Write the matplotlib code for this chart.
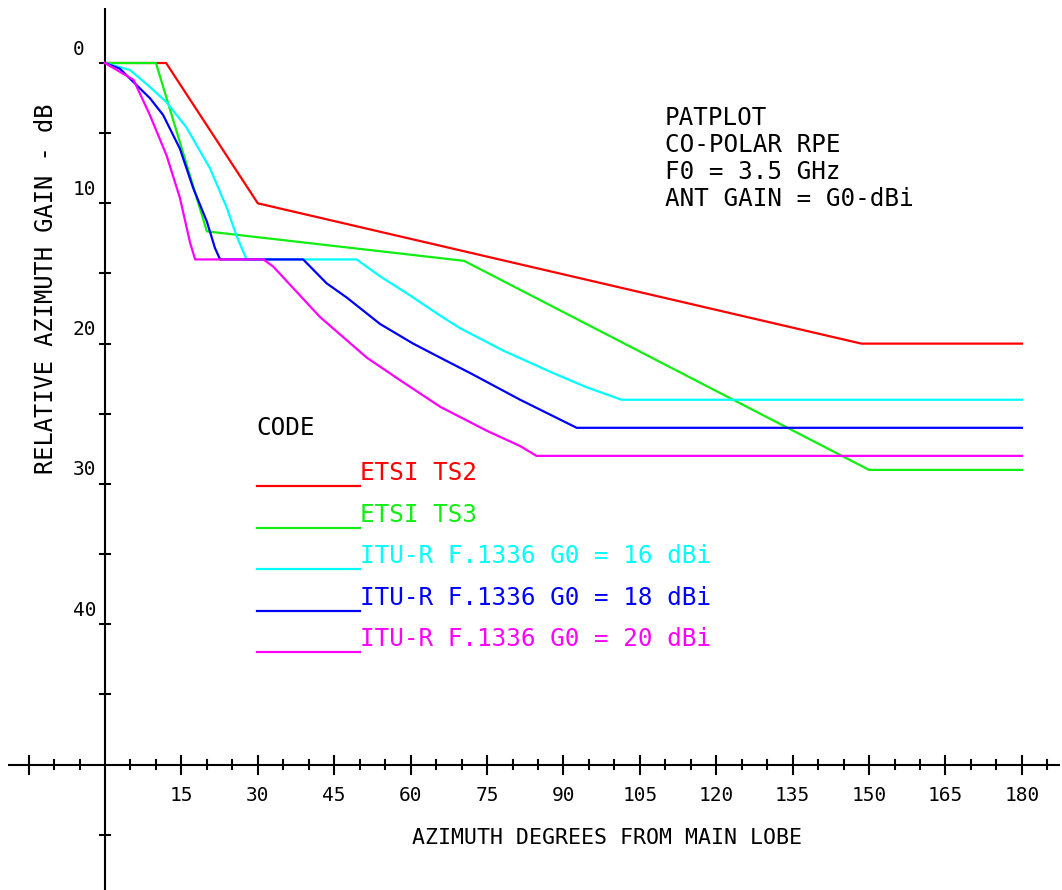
import numpy as np
import matplotlib
matplotlib.use("Agg")
import matplotlib.pyplot as plt

# azimuth (deg) / relative gain (dB)
ts2_az = [0, 12, 30, 148.5, 180]
ts2_db = [0, 0, 10, 20, 20]

ts3_az = [0, 10, 20, 70.5, 150, 180]
ts3_db = [0, 0, 12.0, 14.1, 29.0, 29.0]

itu16_az = [0, 4.9, 8.8, 12.1, 16.0, 20.6, 23.9, 25.8, 27.8, 49.4, 54.0, 59.2,
            65.8, 69.7, 78.2, 88.0, 94.5, 101.4, 180]
itu16_db = [0, 0.5, 1.7, 2.8, 4.6, 7.5, 10.3, 12.3, 14.0, 14.0, 15.2, 16.4,
            18.0, 18.9, 20.5, 22.1, 23.1, 24.0, 24.0]

itu18_az = [0, 2.9, 8.8, 11.4, 14.7, 17.3, 20.0, 21.6, 22.6, 38.9, 43.5, 47.4,
            54.0, 60.5, 65.8, 71.7, 81.5, 92.6, 180]
itu18_db = [0, 0.4, 2.5, 3.7, 6.1, 8.9, 11.3, 13.2, 14.0, 14.0, 15.7, 16.7,
            18.6, 20.0, 21.0, 22.1, 24.0, 26.0, 26.0]

itu20_az = [0, 5.6, 8.8, 12.1, 14.7, 16.7, 17.7, 31.1, 33.0, 42.2, 51.4, 57.9,
            65.8, 74.9, 81.5, 84.7, 180]
itu20_db = [0, 1.2, 3.7, 6.6, 9.6, 12.8, 14.0, 14.0, 14.5, 18.1, 21.0, 22.6,
            24.5, 26.2, 27.3, 28.0, 28.0]

labels = ["ETSI TS2", "ETSI TS3", "ITU-R F.1336 G0 = 16 dBi",
          "ITU-R F.1336 G0 = 18 dBi", "ITU-R F.1336 G0 = 20 dBi"]
colors = ["#ff0000", "#11ee11", "#00ffff", "#0000ff", "#ff00ff"]

xticks_lab = np.arange(15, 181, 15)
yticks_lab = [0, 10, 20, 30, 40]
header = ["PATPLOT", "CO-POLAR RPE", "F0 = 3.5 GHz", "ANT GAIN = G0-dBi"]

mono = "DejaVu Sans Mono"

fig = plt.figure(figsize=(10.62, 8.90), dpi=100)
ax = fig.add_axes([0, 0, 1, 1])
ax.set_xlim(-20.61, 187.87)
ax.set_ylim(58.94, -4.49)
ax.axis("off")

# hand-drawn axes, plotter style
ax.plot([-19, 187.5], [50, 50], color="black", lw=1.5, solid_capstyle="butt")
ax.plot([0, 0], [-3.9, 60], color="black", lw=1.5, solid_capstyle="butt")
for t in range(-15, 186, 5):
    if t == 0:
        continue
    h = 0.64 if t % 15 == 0 else 0.29
    ax.plot([t, t], [50 - h, 50 + h], color="black", lw=1.5)
for t in range(0, 56, 5):
    if t == 50:
        continue
    ax.plot([-0.98, 0.98], [t, t], color="black", lw=1.5)

for t in xticks_lab:
    ax.text(t, 52.2, str(t), ha="center", va="center", fontsize=14, family=mono)
for t in yticks_lab:
    ax.text(-6.3, t - 0.32, str(t), ha="left", va="bottom", fontsize=14, family=mono)

ax.text(98.5, 55.2, "AZIMUTH DEGREES FROM MAIN LOBE", ha="center", va="center",
        fontsize=15.5, family=mono)
ax.text(-11.6, 16.1, "RELATIVE AZIMUTH GAIN - dB", ha="center", va="center",
        rotation=90, fontsize=17, family=mono)

series = [(ts2_az, ts2_db), (ts3_az, ts3_db), (itu16_az, itu16_db),
          (itu18_az, itu18_db), (itu20_az, itu20_db)]
for (az, db), c in zip(series, colors):
    ax.plot(az, db, color=c, lw=1.6)

for i, line in enumerate(header):
    ax.text(109.9, 3.9 + i * 1.93, line, ha="left", va="center",
            fontsize=17.5, family=mono)

ax.text(29.8, 26.0, "CODE", ha="left", va="center", fontsize=17.5, family=mono)
for i, (lab, c) in enumerate(zip(labels, colors)):
    yl = 30.15 + i * 2.96
    ax.plot([29.8, 50.06], [yl, yl], color=c, lw=1.6)
    ax.text(50.06, yl - 0.43, lab, ha="left", va="baseline", color=c,
            fontsize=17.5, family=mono)

fig.savefig("out.png", dpi=100)
